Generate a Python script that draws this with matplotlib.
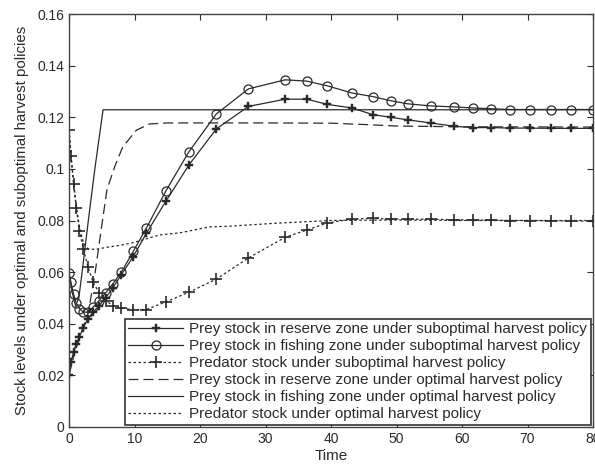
"""Prey/predator stock levels under optimal and suboptimal harvest policies."""

import matplotlib
matplotlib.use("Agg")
import matplotlib.pyplot as plt

plt.rcParams["font.family"] = ["Liberation Sans", "DejaVu Sans"]

# suboptimal policy solution (marker grid)
t_sub = [0, 0.3, 0.7, 1.1, 1.6, 2.2, 2.9, 3.7, 4.6, 5.6, 6.7, 8.0, 9.8, 11.8,
         14.8, 18.3, 22.5, 27.4, 33.0, 36.3, 39.4, 43.2, 46.4, 49.1, 51.7,
         55.2, 58.8, 61.7, 64.4, 67.3, 70.4, 73.6, 76.7, 80]
prey_reserve_sub = [0.0202, 0.025, 0.029, 0.032, 0.035, 0.0385, 0.042, 0.0445,
                    0.047, 0.050, 0.054, 0.059, 0.066, 0.075, 0.0875, 0.1015,
                    0.1155, 0.1242, 0.127, 0.127, 0.125, 0.1236, 0.121, 0.120,
                    0.119, 0.1178, 0.1165, 0.116, 0.116, 0.1158, 0.1158,
                    0.1157, 0.1157, 0.1157]
prey_fishing_sub = [0.0597, 0.056, 0.0515, 0.048, 0.0458, 0.0445, 0.0445,
                    0.0465, 0.049, 0.052, 0.0555, 0.060, 0.068, 0.077, 0.0915,
                    0.1066, 0.1213, 0.131, 0.1345, 0.134, 0.1322, 0.1294,
                    0.128, 0.1264, 0.1252, 0.1244, 0.124, 0.1236, 0.1233,
                    0.123, 0.123, 0.123, 0.123, 0.123]
predator_sub = [0.115, 0.105, 0.094, 0.085, 0.076, 0.069, 0.062, 0.056, 0.052,
                0.049, 0.047, 0.046, 0.0455, 0.0455, 0.0485, 0.0522, 0.0573,
                0.0655, 0.0735, 0.0763, 0.079, 0.0806, 0.0808, 0.0806, 0.0805,
                0.0805, 0.0803, 0.0802, 0.0801, 0.080, 0.080, 0.0799, 0.0798,
                0.0798]

# optimal policy solution
t_res_opt = [0, 1, 2, 3, 4, 5, 5.8, 7, 8.2, 10.3, 12.3, 15, 20, 30, 40, 45,
             50, 60, 80]
prey_reserve_opt = [0.0202, 0.030, 0.037, 0.045, 0.060, 0.078, 0.092, 0.101,
                    0.1085, 0.115, 0.1174, 0.1178, 0.1178, 0.1178, 0.1177,
                    0.1172, 0.1166, 0.1163, 0.1162]
t_fish_opt = [0, 0.5, 1.0, 1.5, 2.0, 3.0, 4.0, 5.2, 80]
prey_fishing_opt = [0.0597, 0.052, 0.047, 0.050, 0.060, 0.081, 0.101, 0.1229,
                    0.1229]
t_pred_opt = [0, 0.5, 1.0, 1.5, 2.0, 2.5, 3.0, 4.0, 6.0, 8.0, 9.6, 13.8, 16.9,
              21.4, 24.5, 32, 40, 50, 60, 80]
predator_opt = [0.115, 0.100, 0.088, 0.079, 0.073, 0.070, 0.069, 0.0688,
                0.0697, 0.0705, 0.0713, 0.0744, 0.0752, 0.0775, 0.0778, 0.079,
                0.080, 0.0802, 0.080, 0.080]

labels = [
    "Prey stock in reserve zone under suboptimal harvest policy",
    "Prey stock in fishing zone under suboptimal harvest policy",
    "Predator stock under suboptimal harvest policy",
    "Prey stock in reserve zone under optimal harvest policy",
    "Prey stock in fishing zone under optimal harvest policy",
    "Predator stock under optimal harvest policy",
]

ink = "#2a2a2a"
fig = plt.figure(figsize=(5.95, 4.72), dpi=100)
ax = fig.add_axes([69 / 595, 1 - 427 / 472, 524 / 595, 413 / 472])

ax.plot(t_sub, prey_reserve_sub, "-", color=ink, lw=0.9,
        marker="P", ms=5.5, mew=0.3, label=labels[0])
ax.plot(t_sub, prey_fishing_sub, "-", color=ink, lw=0.9,
        marker="o", ms=6.5, mfc="none", mew=0.9, label=labels[1])
ax.plot(t_sub, predator_sub, color=ink, lw=0.9, ls=(0, (2, 2)),
        marker="+", ms=8, mew=1.2, label=labels[2])
ax.plot(t_res_opt, prey_reserve_opt, color=ink, lw=0.9, ls=(0, (8, 4)),
        label=labels[3])
ax.plot(t_fish_opt, prey_fishing_opt, "-", color=ink, lw=0.9, label=labels[4])
ax.plot(t_pred_opt, predator_opt, color=ink, lw=0.9, ls=(0, (2, 2)),
        label=labels[5])

ax.set_xlim(0, 80)
ax.set_ylim(0, 0.16)
ax.set_xticks(range(0, 81, 10))
ax.set_yticks([0, 0.02, 0.04, 0.06, 0.08, 0.1, 0.12, 0.14, 0.16])
ax.set_yticklabels(["0", "0.02", "0.04", "0.06", "0.08", "0.1", "0.12",
                    "0.14", "0.16"])
ax.tick_params(direction="in", top=True, right=True, labelsize=10,
               colors=ink, length=4, width=0.8)
for s in ax.spines.values():
    s.set_color("#444444")
    s.set_linewidth(1.0)

ax.set_xlabel("Time", fontsize=11, color=ink, labelpad=2)
ax.set_ylabel("Stock levels under optimal and suboptimal harvest policies",
              fontsize=10.8, color=ink, labelpad=6)

leg = ax.legend(loc="lower right", fontsize=11, handlelength=3.6,
                handletextpad=0.4, labelspacing=0.2, borderpad=0.22,
                borderaxespad=0.15, fancybox=False, framealpha=1)
leg.get_frame().set_edgecolor("#333333")
leg.get_frame().set_linewidth(1.2)
for txt in leg.get_texts():
    txt.set_color(ink)

fig.savefig("out.png", dpi=100)
